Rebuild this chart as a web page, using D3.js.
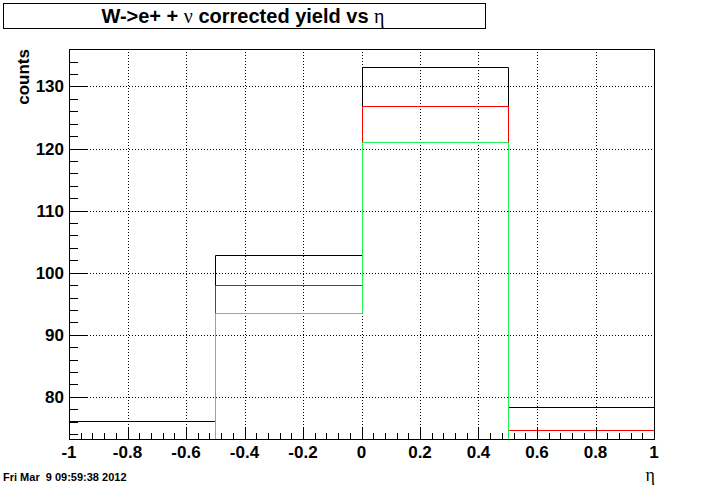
<!DOCTYPE html>
<html><head><meta charset="utf-8">
<script src="https://cdn.jsdelivr.net/npm/d3@7"></script>
<style>body{margin:0;background:#fff}svg{display:block}</style>
</head><body>
<script>
const binEdges = [-1, -0.5, 0, 0.5, 1];
const blackVals = [76.08, 102.85, 133.18, 78.3];
const redVals = [72.5, 98.0, 126.9, 74.6];
const greenVals = [70.0, 93.45, 121.05, 71.0];
const xTicks = [-1, -0.8, -0.6, -0.4, -0.2, 0, 0.2, 0.4, 0.6, 0.8, 1];
const xTickLabels = ["-1", "-0.8", "-0.6", "-0.4", "-0.2", "0", "0.2", "0.4", "0.6", "0.8", "1"];
const yTicks = [80, 90, 100, 110, 120, 130];
const yDomain = [73.22, 136.03];

const W = 702, H = 485;
const L = 69, R = 654, T = 49, B = 439;
const svg = d3.select("body").append("svg").attr("width", W).attr("height", H);
svg.append("rect").attr("width", W).attr("height", H).attr("fill", "#fff");

const x = d3.scaleLinear().domain([-1, 1]).range([L, R]);
const y = d3.scaleLinear().domain(yDomain).range([B, T]);
const cy = v => y(Math.max(yDomain[0], Math.min(yDomain[1], v)));

// grid
const g = svg.append("g").attr("stroke", "#000").attr("stroke-width", 1).attr("stroke-dasharray", "1,2");
xTicks.slice(1, -1).forEach(t => {
  const px = Math.round(x(t)) + 0.5;
  g.append("line").attr("x1", px).attr("x2", px).attr("y1", T).attr("y2", B);
});
yTicks.forEach(t => {
  const py = Math.round(y(t)) + 0.5;
  g.append("line").attr("x1", L).attr("x2", R).attr("y1", py).attr("y2", py);
});

// histograms
function drawHist(vals, color) {
  const pts = [];
  vals.forEach((v, i) => {
    pts.push([x(binEdges[i]), cy(v)]);
    pts.push([x(binEdges[i + 1]), cy(v)]);
  });
  svg.append("path")
    .attr("d", d3.line().x(d => Math.round(d[0]) + 0.5).y(d => Math.round(d[1]) + 0.5)(pts))
    .attr("fill", "none").attr("stroke", color).attr("stroke-width", 1);
}
drawHist(blackVals, "#000");
drawHist(redVals, "#ff0000");
drawHist(greenVals, "#22ee55");

// frame
svg.append("rect").attr("x", L + 0.5).attr("y", T + 0.5).attr("width", R - L).attr("height", B - T)
  .attr("fill", "none").attr("stroke", "#000").attr("stroke-width", 1);

// ticks
const ax = svg.append("g").attr("stroke", "#000").attr("stroke-width", 1);
d3.range(74, 137, 2).forEach(t => {
  if (t < yDomain[0] || t > yDomain[1]) return;
  const major = t % 10 === 0;
  const py = Math.round(y(t)) + 0.5;
  ax.append("line").attr("x1", L).attr("x2", L + (major ? 18 : 9)).attr("y1", py).attr("y2", py);
});
d3.range(-25, 26).map(i => i * 0.04).forEach(t => {
  const major = Math.abs(Math.round(t * 5) - t * 5) < 1e-6;
  const px = Math.round(x(t)) + 0.5;
  ax.append("line").attr("x1", px).attr("x2", px).attr("y1", B).attr("y2", B - (major ? 12 : 6));
});

const font = "'Liberation Sans', Arial, Helvetica, sans-serif";
// y labels
yTicks.forEach(t => {
  svg.append("text").attr("x", L - 5).attr("y", y(t) + 6).attr("text-anchor", "end")
    .attr("font-family", font).attr("font-weight", "bold").attr("font-size", 17).text(t);
});
// x labels
xTicks.forEach((t, i) => {
  svg.append("text").attr("x", x(t)).attr("y", B + 19).attr("text-anchor", "middle")
    .attr("font-family", font).attr("font-weight", "bold").attr("font-size", 17).text(xTickLabels[i]);
});

// axis titles
svg.append("text").attr("transform", `translate(29,49) rotate(-90)`).attr("text-anchor", "end")
  .attr("font-family", font).attr("font-weight", "bold").attr("font-size", 17).text("counts");
svg.append("text").attr("x", 655).attr("y", 481).attr("text-anchor", "end")
  .attr("font-family", "'Liberation Serif', 'Times New Roman', serif").attr("font-size", 18).text("η");

// title box
svg.append("rect").attr("x", 3.5).attr("y", 3.5).attr("width", 482).attr("height", 25)
  .attr("fill", "#fff").attr("stroke", "#000").attr("stroke-width", 1);
const tt = svg.append("text").attr("x", 243).attr("y", 23).attr("text-anchor", "middle")
  .attr("font-family", font).attr("font-weight", "bold").attr("font-size", 20);
tt.append("tspan").text("W->e+ + ");
tt.append("tspan").attr("font-family", "'Liberation Serif', serif").attr("font-weight", "normal").text("ν");
tt.append("tspan").text(" corrected yield vs ");
tt.append("tspan").attr("font-family", "'Liberation Serif', serif").attr("font-weight", "normal").text("η");

// date
svg.append("text").attr("x", 3).attr("y", 481).attr("font-family", font).attr("font-weight", "bold")
  .attr("font-size", 11).attr("xml:space", "preserve").style("white-space", "pre").text("Fri Mar  9 09:59:38 2012");
</script>
</body></html>
